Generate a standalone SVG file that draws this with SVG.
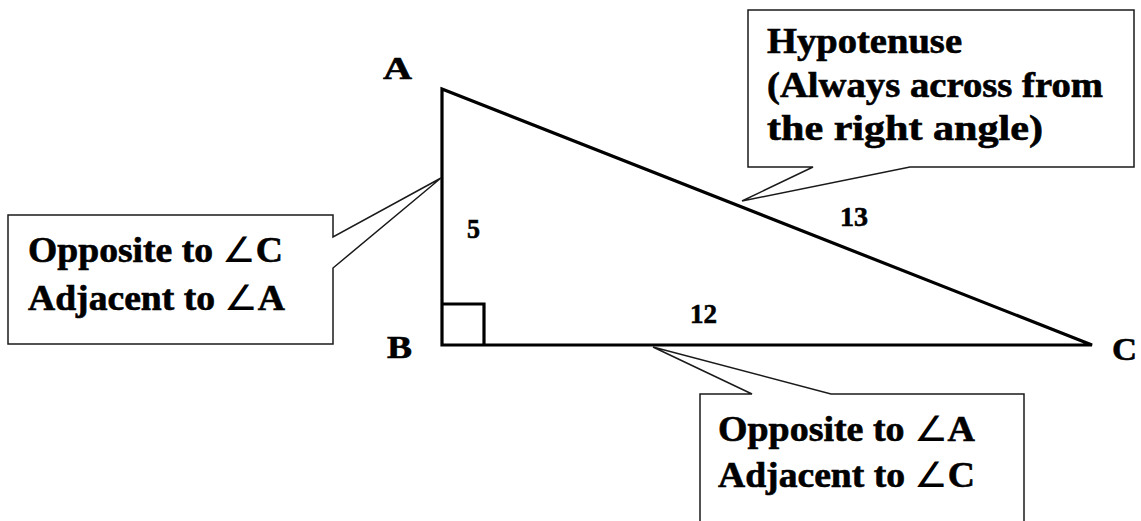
<svg xmlns="http://www.w3.org/2000/svg" width="1141" height="521" viewBox="0 0 1141 521">
<style>
.t{font-family:"Liberation Serif","Times New Roman",Times,serif;font-weight:bold;fill:#000;stroke:#000;stroke-width:0.6}
.ang{font-weight:normal;stroke:none}
.big{font-size:35px}
.lbl{font-size:32px}
.num{font-size:27px}
.callout{fill:#fff;stroke:#1a1a1a;stroke-width:1.5;stroke-linejoin:miter}
.tri{fill:none;stroke:#000;stroke-width:3.2;stroke-linejoin:miter}
</style>
<rect width="1141" height="521" fill="#fff"/>
<g id="triangle">
<polygon class="tri" points="442,89 1092,345 442,345"/>
<polyline class="tri" points="442,304 484,304 484,345"/>
</g>
<g id="labels">
<text class="t lbl" x="383" y="79" textLength="29" lengthAdjust="spacingAndGlyphs">A</text>
<text class="t lbl" x="387" y="358" textLength="25" lengthAdjust="spacingAndGlyphs">B</text>
<text class="t lbl" x="1112" y="360" textLength="25" lengthAdjust="spacingAndGlyphs">C</text>
<text class="t num" x="467" y="238" textLength="13" lengthAdjust="spacingAndGlyphs">5</text>
<text class="t num" x="690" y="323" textLength="27" lengthAdjust="spacingAndGlyphs">12</text>
<text class="t num" x="840" y="226" textLength="28" lengthAdjust="spacingAndGlyphs">13</text>
</g>
<g id="connectors">
</g>
<g id="callout-left">
<polygon class="callout" points="8,215 333,215 333,237 441,178 333,268 333,344 8,344"/>
<text class="t big" x="28" y="262" textLength="255" lengthAdjust="spacingAndGlyphs">Opposite to <tspan class="ang">∠</tspan>C</text>
<text class="t big" x="28" y="310" textLength="257" lengthAdjust="spacingAndGlyphs">Adjacent to <tspan class="ang">∠</tspan>A</text>
</g>
<g id="callout-hypotenuse">
<polygon class="callout" points="748,10 1134,10 1134,167 910,167 742,201 813,167 748,167"/>
<text class="t big" x="767" y="53" textLength="195" lengthAdjust="spacingAndGlyphs">Hypotenuse</text>
<text class="t big" x="767" y="97" textLength="336" lengthAdjust="spacingAndGlyphs">(Always across from</text>
<text class="t big" x="767" y="140" textLength="276" lengthAdjust="spacingAndGlyphs">the right angle)</text>
</g>
<g id="callout-bottom">
<polygon class="callout" points="700,394 752,394 653,347 831,394 1024,394 1024,530 700,530"/>
<text class="t big" x="718" y="441" textLength="257" lengthAdjust="spacingAndGlyphs">Opposite to <tspan class="ang">∠</tspan>A</text>
<text class="t big" x="718" y="487" textLength="257" lengthAdjust="spacingAndGlyphs">Adjacent to <tspan class="ang">∠</tspan>C</text>
</g>
</svg>
